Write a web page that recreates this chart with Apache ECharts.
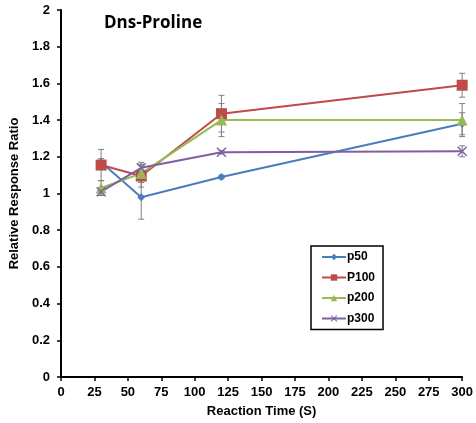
<!DOCTYPE html>
<html><head><meta charset="utf-8">
<script src="https://cdn.jsdelivr.net/npm/echarts@6/dist/echarts.min.js"></script>
<style>html,body{margin:0;padding:0;background:#fff}#c{width:476px;height:423px}</style>
</head><body><div id="c"></div>
<script>
const times = [30, 60, 120, 300];
const seriesNames = ['p50', 'P100', 'p200', 'p300'];
const p50 = [1.17, 0.98, 1.09, 1.38];
const p50Err = [0.02, 0.12, 0.01, 0.06];
const p100 = [1.155, 1.095, 1.435, 1.59];
const p100Err = [0.085, 0.06, 0.10, 0.065];
const p200 = [1.03, 1.11, 1.40, 1.40];
const p200Err = [0.04, 0.05, 0.09, 0.09];
const p300 = [1.01, 1.14, 1.225, 1.23];
const p300Err = [0.02, 0.03, 0.01, 0.03];

const colors = ['#4a7ebb', '#be4b48', '#98b954', '#7d60a0'];
const symbols = ['diamond', 'rect', 'triangle', 'path://M0,1L1,0L5,4L9,0L10,1L6,5L10,9L9,10L5,6L1,10L0,9L4,5Z'];
const sizes = [8, 11, 11, 10];
const vals = [p50, p100, p200, p300];
const errs = [p50Err, p100Err, p200Err, p300Err];

const series = [];
vals.forEach((v, i) => {
  series.push({
    type: 'custom', name: seriesNames[i] + ' err', z: 1, silent: true,
    data: times.map((t, j) => [t, v[j] - errs[i][j], v[j] + errs[i][j]]),
    renderItem: (params, api) => {
      const lo = api.coord([api.value(0), api.value(1)]);
      const hi = api.coord([api.value(0), api.value(2)]);
      const w = 3;
      const st = {stroke: '#7f7f7f', lineWidth: 1};
      return {type: 'group', children: [
        {type: 'line', shape: {x1: lo[0], y1: lo[1], x2: hi[0], y2: hi[1]}, style: st},
        {type: 'line', shape: {x1: lo[0]-w, y1: lo[1], x2: lo[0]+w, y2: lo[1]}, style: st},
        {type: 'line', shape: {x1: hi[0]-w, y1: hi[1], x2: hi[0]+w, y2: hi[1]}, style: st}
      ]};
    }
  });
});
vals.forEach((v, i) => {
  series.push({
    type: 'line', name: seriesNames[i], z: 3,
    data: times.map((t, j) => [t, v[j]]),
    symbol: symbols[i], symbolSize: sizes[i], showSymbol: true,
    lineStyle: {color: colors[i], width: 2},
    itemStyle: {color: colors[i]},
    emphasis: {disabled: true}
  });
});

const chart = echarts.init(document.getElementById('c'), null, {renderer: 'canvas'});
chart.setOption({
  animation: false,
  backgroundColor: '#fff',
  title: {text: 'Dns-Proline', left: 99, top: 10,
    textStyle: {fontFamily: 'Open Sans', fontWeight: 'bold', fontSize: 17, color: '#000'}},
  grid: {left: 61, right: 7, top: 10, bottom: 46, containLabel: false},
  legend: {
    orient: 'vertical', left: 311, top: 246,
    data: seriesNames,
    borderColor: '#000', borderWidth: 1.5, padding: [5, 8, 5, 10],
    itemGap: 8.5, itemWidth: 24, itemHeight: 8,
    textStyle: {fontFamily: 'Liberation Sans', fontWeight: 'bold', fontSize: 12, color: '#000', padding: [0, 0, 0, -4]}
  },
  xAxis: {
    type: 'value', min: 0, max: 300, interval: 25,
    name: 'Reaction Time (S)', nameLocation: 'middle', nameGap: 28,
    nameTextStyle: {fontFamily: 'Liberation Sans', fontWeight: 'bold', fontSize: 13, color: '#000'},
    axisLine: {onZero: false, lineStyle: {color: '#000', width: 2}},
    axisTick: {show: true, inside: false, length: 4, lineStyle: {color: '#000', width: 1.5}},
    axisLabel: {fontFamily: 'Liberation Sans', fontWeight: 'bold', fontSize: 13, color: '#000', margin: 9},
    splitLine: {show: false}
  },
  yAxis: {
    type: 'value', min: 0, max: 2, interval: 0.2,
    name: 'Relative Response Ratio', nameLocation: 'middle', nameGap: 33, nameRotate: 90,
    nameTextStyle: {fontFamily: 'Liberation Sans', fontWeight: 'bold', fontSize: 13, color: '#000'},
    axisLine: {show: true, lineStyle: {color: '#000', width: 2}},
    axisTick: {show: true, inside: false, length: 4, lineStyle: {color: '#000', width: 1.5}},
    axisLabel: {fontFamily: 'Liberation Sans', fontWeight: 'bold', fontSize: 13, color: '#000', margin: 11},
    splitLine: {show: false}
  },
  series: series
});
</script></body></html>
